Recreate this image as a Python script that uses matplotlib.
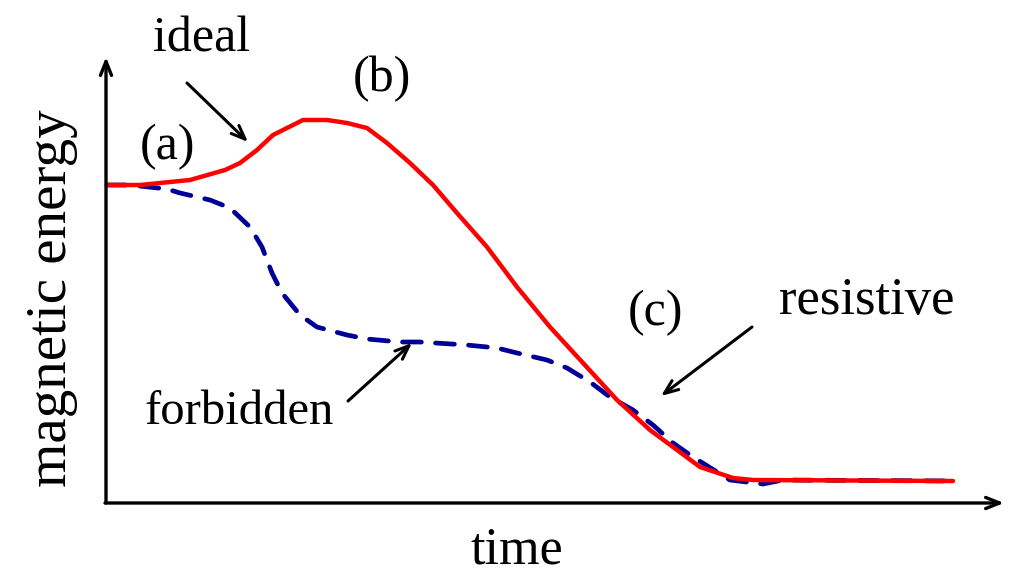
import numpy as np
import matplotlib.pyplot as plt

plt.rcParams['font.family'] = ['Liberation Serif', 'DejaVu Serif']

# curves (time, magnetic energy in arbitrary units)
t_ideal = [1, 34, 84, 119, 134, 151, 167, 197, 221, 241, 261, 281, 304, 327, 351,
           381, 411, 444, 511, 544, 594, 627, 647, 847]
e_ideal = [317, 317, 322, 332, 339, 352, 367, 382, 382, 379, 374, 359, 339, 317, 289,
           255, 215, 175, 102, 72, 35, 24, 22, 21]

t_forb = [1, 24, 61, 74, 104, 124, 144, 156, 166, 176, 194, 211, 241, 261, 294,
          314, 361, 391, 411, 441, 461, 484, 504, 527, 547, 567, 587, 624, 657,
          677, 847]
e_forb = [317, 317, 313, 309, 302, 294, 275, 255, 229, 209, 187, 175, 167, 163, 160,
          160, 157, 154, 149, 142, 134, 120, 105, 92, 77, 59, 45, 22, 18, 22, 21]

fig = plt.figure(figsize=(10.1, 5.78), dpi=100)
ax = fig.add_axes([0, 0, 1, 1])
ax.set_xlim(-106, 904)
ax.set_ylim(-76, 502)
ax.axis('off')

# axes with arrow heads
arrow_kw = dict(arrowstyle='->,head_length=1.0,head_width=0.4', lw=2.4, color='black',
                shrinkA=0, shrinkB=0)
ax.annotate('', xy=(0, 445), xytext=(0, -1), arrowprops=arrow_kw)
ax.annotate('', xy=(898, -1), xytext=(-1, -1), arrowprops=arrow_kw)

ax.plot(t_forb, e_forb, color='#000099', lw=3.4, ls=(0, (4, 3)), dash_capstyle='round')
ax.plot(t_ideal, e_ideal, color='#ff0000', lw=3.2, solid_capstyle='round')

ax.text(411, -49, 'time', fontsize=37.5, ha='center', va='center')
ax.text(-54, 204, 'magnetic energy', fontsize=41, ha='center', va='center', rotation=90)
ax.text(61, 355, '(a)', fontsize=36, ha='center', va='center')
ax.text(276, 423, '(b)', fontsize=36, ha='center', va='center')
ax.text(549, 189, '(c)', fontsize=36, ha='center', va='center')
ax.text(96, 463, 'ideal', fontsize=36, ha='center', va='center')
ax.text(133, 90, 'forbidden', fontsize=35, ha='center', va='center')
ax.text(761, 201, 'resistive', fontsize=38, ha='center', va='center')

ptr = dict(arrowstyle='->,head_length=1.0,head_width=0.4', lw=2.2, color='black',
           shrinkA=0, shrinkB=0)
ax.annotate('', xy=(142, 360), xytext=(81, 419), arrowprops=ptr)
ax.annotate('', xy=(306, 159), xytext=(242, 101), arrowprops=ptr)
ax.annotate('', xy=(555, 106), xytext=(646, 175), arrowprops=ptr)

fig.savefig('out.png', dpi=100)
